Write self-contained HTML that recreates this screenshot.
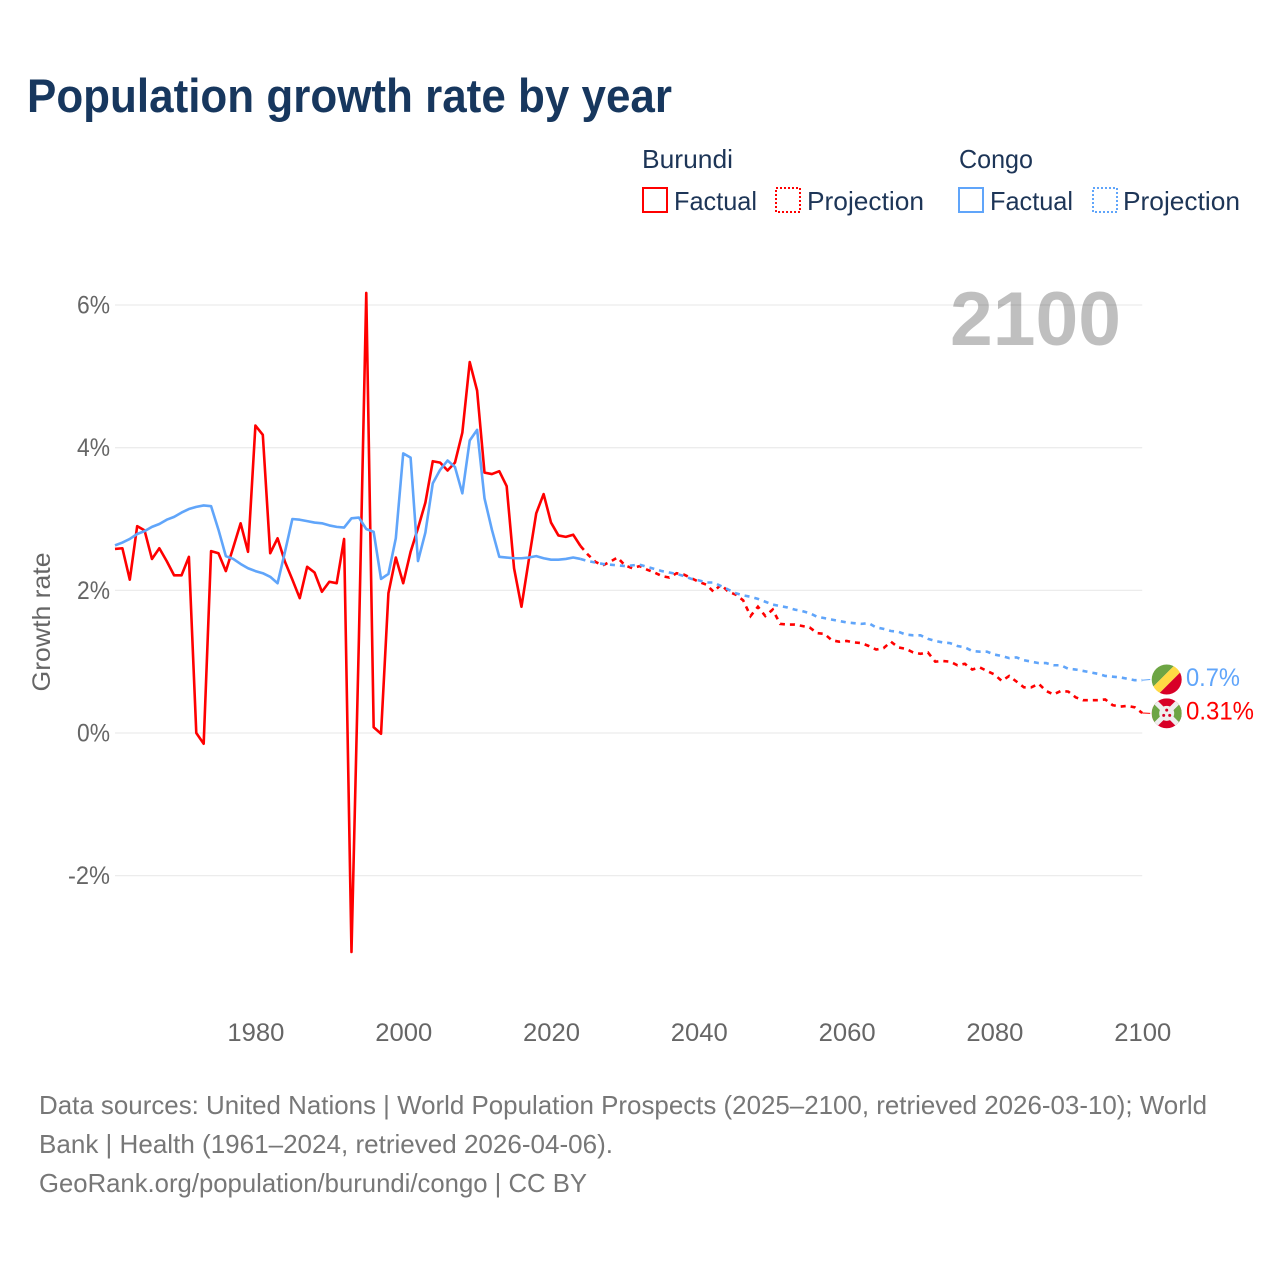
<!DOCTYPE html>
<html lang="en">
<head>
<meta charset="utf-8">
<title>Population growth rate by year</title>
<style>
html,body{margin:0;padding:0;background:#fff;}
svg{display:block;font-family:"Liberation Sans",sans-serif;}
</style>
</head>
<body>
<svg id="chart" xmlns="http://www.w3.org/2000/svg" width="1280" height="1280" viewBox="0 0 1280 1280">
  <rect width="1280" height="1280" fill="#fff"/>
  <text x="27" y="112" font-size="47" font-weight="700" fill="#17375e" textLength="645" lengthAdjust="spacingAndGlyphs">Population growth rate by year</text>

  <g font-size="26" fill="#1d3557">
    <text x="642" y="168" textLength="91" lengthAdjust="spacingAndGlyphs">Burundi</text>
    <text x="959" y="168" textLength="74" lengthAdjust="spacingAndGlyphs">Congo</text>
    <rect x="643" y="188" width="24" height="24" fill="none" stroke="#ff0000" stroke-width="2"/>
    <text x="674" y="210" textLength="83" lengthAdjust="spacingAndGlyphs">Factual</text>
    <rect x="776" y="188" width="24" height="24" fill="none" stroke="#ff0000" stroke-width="2" stroke-dasharray="2 2"/>
    <text x="807" y="210" textLength="117" lengthAdjust="spacingAndGlyphs">Projection</text>
    <rect x="959" y="188" width="24" height="24" fill="none" stroke="#60a5fa" stroke-width="2"/>
    <text x="990" y="210" textLength="83" lengthAdjust="spacingAndGlyphs">Factual</text>
    <rect x="1093" y="188" width="24" height="24" fill="none" stroke="#60a5fa" stroke-width="2" stroke-dasharray="2 2"/>
    <text x="1123" y="210" textLength="117" lengthAdjust="spacingAndGlyphs">Projection</text>
  </g>

  <g id="grid"></g>
  <g id="ylabels" font-size="25" fill="#666" text-anchor="end"></g>
  <g id="xlabels" font-size="25" fill="#666" text-anchor="middle"></g>
  <text transform="translate(50 622) rotate(-90)" font-size="25" fill="#666" text-anchor="middle" textLength="139" lengthAdjust="spacingAndGlyphs">Growth rate</text>
  <text x="950" y="345" font-size="76" font-weight="700" fill="#000" fill-opacity="0.25" textLength="171" lengthAdjust="spacingAndGlyphs">2100</text>

  <g id="series"></g>

  <defs>
    <clipPath id="flag-clip"><circle cx="0" cy="0" r="15"/></clipPath>
  </defs>

  <g id="flag-burundi">
    <g clip-path="url(#flag-clip)">
      <rect x="-15" y="-15" width="30" height="30" fill="#d80027"/>
      <polygon points="-15,-15 0,0 -15,15" fill="#6da544"/>
      <polygon points="15,-15 0,0 15,15" fill="#6da544"/>
      <line x1="-15" y1="-15" x2="15" y2="15" stroke="#eeeeee" stroke-width="5"/>
      <line x1="-15" y1="15" x2="15" y2="-15" stroke="#eeeeee" stroke-width="5"/>
      <circle r="7.5" fill="#eeeeee"/>
      <circle cx="0" cy="-3.2" r="1.5" fill="#d80027"/>
      <circle cx="-3" cy="2" r="1.5" fill="#d80027"/>
      <circle cx="3" cy="2" r="1.5" fill="#d80027"/>
    </g>
  </g>
  <g id="flag-congo">
    <g clip-path="url(#flag-clip)">
      <g transform="rotate(-45)">
        <rect x="-22" y="-22" width="44" height="17.5" fill="#6da544"/>
        <rect x="-22" y="-4.5" width="44" height="9" fill="#ffda44"/>
        <rect x="-22" y="4.5" width="44" height="18" fill="#d80027"/>
      </g>
    </g>
  </g>
  <text id="end-label-burundi" x="1186" font-size="25" fill="#ff0000" textLength="68" lengthAdjust="spacingAndGlyphs"></text>
  <text id="end-label-congo" x="1186" font-size="25" fill="#60a5fa" textLength="54" lengthAdjust="spacingAndGlyphs"></text>

  <g font-size="26" fill="#777">
    <text x="39" y="1114" textLength="1168" lengthAdjust="spacingAndGlyphs">Data sources: United Nations | World Population Prospects (2025–2100, retrieved 2026-03-10); World</text>
    <text x="39" y="1153" textLength="574" lengthAdjust="spacingAndGlyphs">Bank | Health (1961–2024, retrieved 2026-04-06).</text>
    <text x="39" y="1192" textLength="548" lengthAdjust="spacingAndGlyphs">GeoRank.org/population/burundi/congo | CC BY</text>
  </g>
</svg>

<script>
const firstFactualYear = 1961;
const firstProjectionYear = 2025;
const yTicks = [6, 4, 2, 0, -2];
const yTickLabels = ["6%", "4%", "2%", "0%", "-2%"];
const xTicks = [1980, 2000, 2020, 2040, 2060, 2080, 2100];
const xTickLabels = ["1980", "2000", "2020", "2040", "2060", "2080", "2100"];

const burundiFactual = [
  2.58, 2.59, 2.15, 2.90, 2.84, 2.44, 2.59, 2.41, 2.21, 2.21,
  2.47, 0.00, -0.15, 2.55, 2.52, 2.27, 2.60, 2.94, 2.54, 4.31,
  4.18, 2.52, 2.73, 2.40, 2.15, 1.89, 2.33, 2.25, 1.98, 2.12,
  2.10, 2.72, -3.07, 1.30, 6.17, 0.08, -0.01, 1.96, 2.46, 2.10,
  2.54, 2.87, 3.23, 3.81, 3.79, 3.68, 3.79, 4.21, 5.20, 4.80,
  3.65, 3.63, 3.67, 3.46, 2.31, 1.77, 2.43, 3.08, 3.35, 2.95,
  2.77, 2.75, 2.78, 2.62
];
const burundiProjection = [
  2.50, 2.40, 2.35, 2.40, 2.46, 2.35, 2.31, 2.34, 2.29, 2.25,
  2.20, 2.18, 2.24, 2.22, 2.17, 2.12, 2.08, 1.98, 2.08, 1.98,
  1.94, 1.86, 1.64, 1.77, 1.64, 1.73, 1.53, 1.52, 1.52, 1.50,
  1.48, 1.40, 1.39, 1.30, 1.28, 1.29, 1.27, 1.26, 1.22, 1.17,
  1.19, 1.28, 1.20, 1.18, 1.13, 1.11, 1.13, 1.00, 1.01, 1.00,
  0.95, 0.97, 0.89, 0.92, 0.87, 0.82, 0.73, 0.80, 0.72, 0.64,
  0.64, 0.69, 0.59, 0.54, 0.59, 0.58, 0.50, 0.46, 0.46, 0.46,
  0.47, 0.39, 0.37, 0.38, 0.36, 0.28
];
const congoFactual = [
  2.63, 2.67, 2.72, 2.79, 2.83, 2.89, 2.93, 2.99, 3.03, 3.09,
  3.14, 3.17, 3.19, 3.18, 2.85, 2.48, 2.44, 2.37, 2.31, 2.27,
  2.24, 2.19, 2.10, 2.54, 3.00, 2.99, 2.97, 2.95, 2.94, 2.91,
  2.89, 2.88, 3.01, 3.02, 2.86, 2.82, 2.16, 2.23, 2.73, 3.92,
  3.86, 2.41, 2.81, 3.50, 3.69, 3.82, 3.73, 3.36, 4.10, 4.25,
  3.29, 2.85, 2.47, 2.46, 2.45, 2.45, 2.46, 2.48, 2.45, 2.43,
  2.43, 2.44, 2.46, 2.44
];
const congoProjection = [
  2.41, 2.39, 2.37, 2.36, 2.35, 2.34, 2.35, 2.36, 2.33, 2.30,
  2.27, 2.25, 2.23, 2.20, 2.16, 2.14, 2.11, 2.11, 2.06, 2.01,
  1.96, 1.93, 1.91, 1.88, 1.84, 1.80, 1.78, 1.76, 1.73, 1.71,
  1.68, 1.63, 1.61, 1.59, 1.57, 1.55, 1.54, 1.53, 1.54, 1.48,
  1.46, 1.43, 1.42, 1.38, 1.37, 1.37, 1.32, 1.29, 1.27, 1.26,
  1.22, 1.20, 1.15, 1.14, 1.14, 1.10, 1.08, 1.05, 1.06, 1.02,
  1.00, 0.98, 0.98, 0.95, 0.95, 0.90, 0.89, 0.87, 0.85, 0.83,
  0.80, 0.79, 0.78, 0.76, 0.74, 0.74
];
const endLabelBurundi = "0.31%";
const endLabelCongo = "0.7%";

const SVG_NS = "http://www.w3.org/2000/svg";
const RED = "#ff0000";
const BLUE = "#60a5fa";

function xScale(year) { return 115 + (year - 1961) * 7.39; }
function yScale(value) { return 733 - value * 71.33; }

function linePath(startYear, values) {
  return values.map(function (v, i) {
    return (i ? "L" : "M") + xScale(startYear + i).toFixed(2) + " " + yScale(v).toFixed(2);
  }).join(" ");
}

const gridGroup = document.getElementById("grid");
const yLabelGroup = document.getElementById("ylabels");
yTicks.forEach(function (tick, i) {
  const line = document.createElementNS(SVG_NS, "line");
  
  
  line.setAttribute("x1", xScale(1961));
  line.setAttribute("x2", xScale(2100));
  line.setAttribute("y1", yScale(tick));
  line.setAttribute("y2", yScale(tick));
  line.setAttribute("stroke", "#ececec");
  line.setAttribute("stroke-width", "1.3");
  gridGroup.appendChild(line);

  const label = document.createElementNS(SVG_NS, "text");
  
  
  label.setAttribute("x", 110);
  label.setAttribute("y", yScale(tick) + 8.5);
  label.setAttribute("textLength", yTickLabels[i].length === 2 ? 33 : 42);
  label.setAttribute("lengthAdjust", "spacingAndGlyphs");
  label.textContent = yTickLabels[i];
  yLabelGroup.appendChild(label);
});

const xLabelGroup = document.getElementById("xlabels");
xTicks.forEach(function (tick, i) {
  const label = document.createElementNS(SVG_NS, "text");
  
  
  label.setAttribute("x", xScale(tick) + 0.5);
  label.setAttribute("y", 1041);
  label.setAttribute("textLength", 57);
  label.setAttribute("lengthAdjust", "spacingAndGlyphs");
  label.textContent = xTickLabels[i];
  xLabelGroup.appendChild(label);
});

const seriesGroup = document.getElementById("series");

function addSeries(name, color, factual, projection) {
  const lastFactual = factual[factual.length - 1];
  const dashedValues = [lastFactual].concat(projection);
  const dashStart = firstProjectionYear - 1;

  const solid = document.createElementNS(SVG_NS, "path");
  
  
  solid.setAttribute("d", linePath(firstFactualYear, factual));
  solid.setAttribute("fill", "none");
  solid.setAttribute("stroke", color);
  solid.setAttribute("stroke-width", "2.6");
  solid.setAttribute("stroke-linejoin", "round");
  seriesGroup.appendChild(solid);

  const dashed = document.createElementNS(SVG_NS, "path");
  
  
  dashed.setAttribute("d", linePath(dashStart, dashedValues));
  dashed.setAttribute("fill", "none");
  dashed.setAttribute("stroke", color);
  dashed.setAttribute("stroke-width", "2.6");
  dashed.setAttribute("stroke-dasharray", "5 5");
  seriesGroup.appendChild(dashed);
}

addSeries("burundi", RED, burundiFactual, burundiProjection);
addSeries("congo", BLUE, congoFactual, congoProjection);

function placeEnd(flagId, labelId, labelText, color, values, flagOffset, name) {
  const lastValue = values[values.length - 1];
  const px = xScale(2100);
  const py = yScale(lastValue);
  const flagY = py + flagOffset;

  const connector = document.createElementNS(SVG_NS, "path");
  
  
  connector.setAttribute("d", "M" + px + " " + py + " L" + (px + 8) + " " + flagY);
  connector.setAttribute("fill", "none");
  connector.setAttribute("stroke", color);
  connector.setAttribute("stroke-width", "1");
  seriesGroup.appendChild(connector);

  document.getElementById(flagId).setAttribute("transform", "translate(1166.7 " + flagY + ")");
  const label = document.getElementById(labelId);
  label.setAttribute("y", flagY + 6.3);
  label.textContent = labelText;
}

placeEnd("flag-burundi", "end-label-burundi", endLabelBurundi, RED, burundiProjection, 0.3, "burundi");
placeEnd("flag-congo", "end-label-congo", endLabelCongo, BLUE, congoProjection, -0.7, "congo");
</script>
</body>
</html>
